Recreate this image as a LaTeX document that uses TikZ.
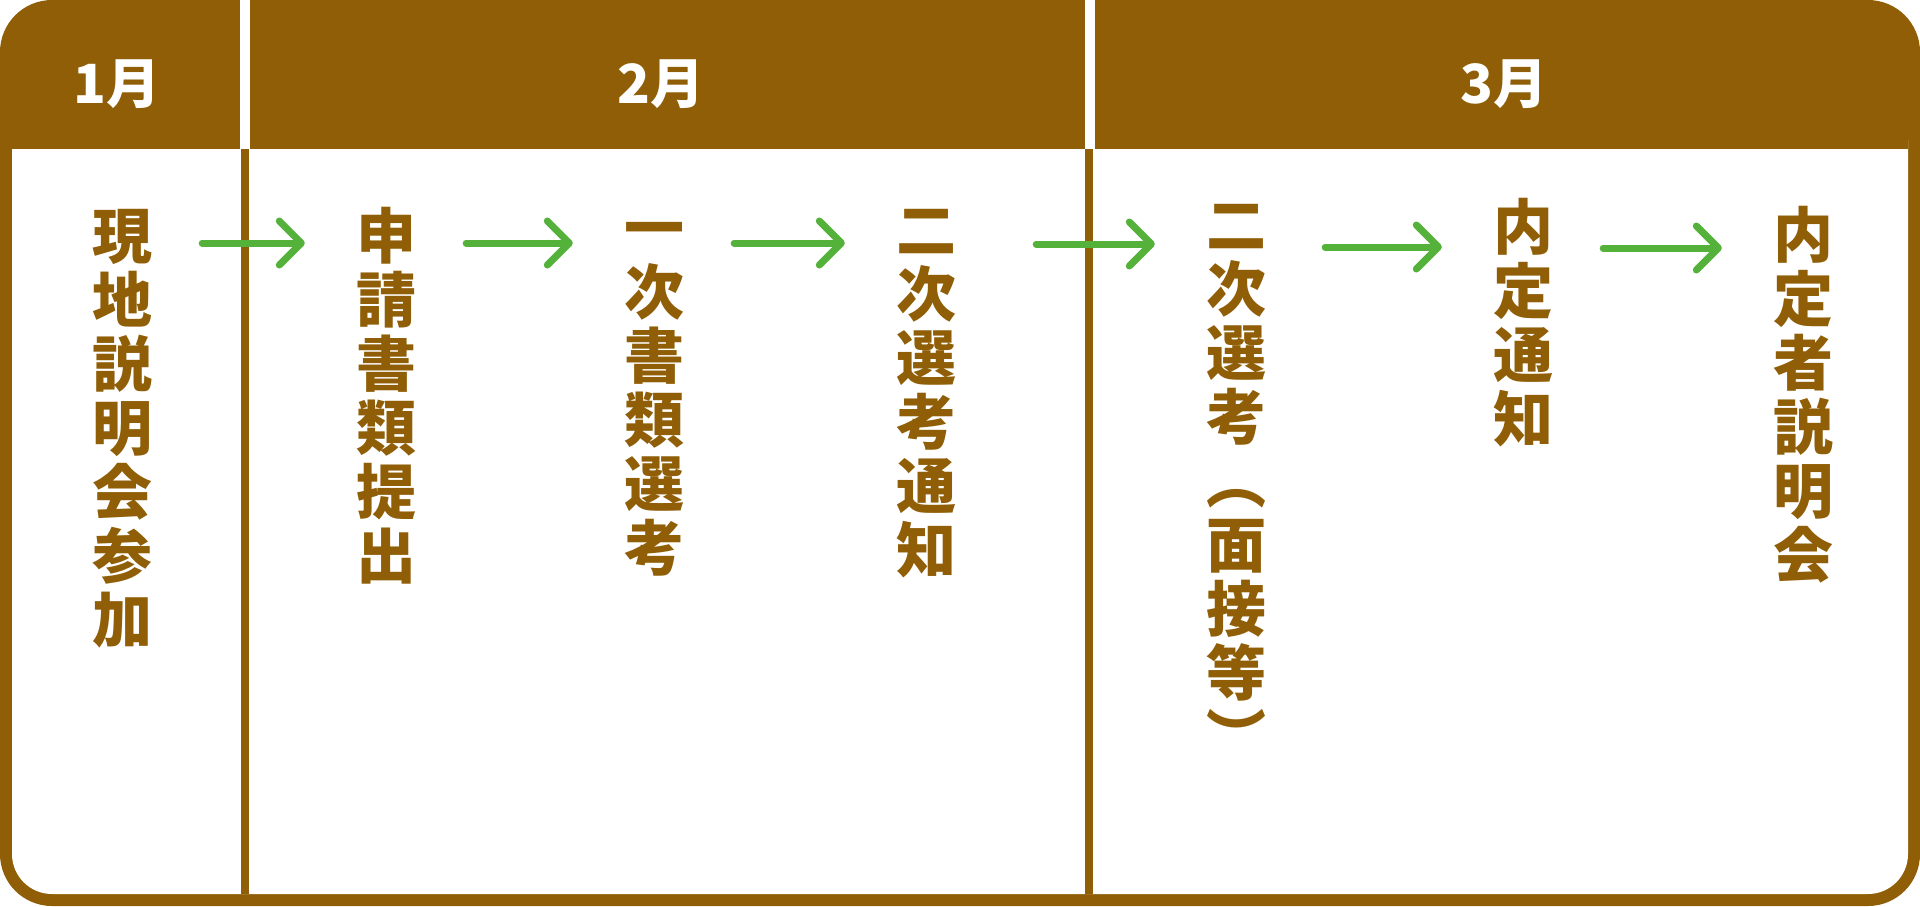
\documentclass[tikz,border=0pt]{standalone}
\usepackage{fontspec}
\newfontfamily\cjk{Noto Sans CJK JP}
\usetikzlibrary{arrows.meta}
\definecolor{brn}{RGB}{143,94,6}
\definecolor{grn}{RGB}{84,178,59}
\newcommand{\tp}{\rule{0pt}{1em}}

\begin{document}
\begin{tikzpicture}[
    x=1pt, y=-1pt,
    col/.style={anchor=north, align=center, inner sep=0pt, text=brn, font=\cjk\bfseries\fontsize{60}{64}\selectfont},
    month/.style={anchor=base, inner sep=0pt, text=white, font=\cjk\bfseries\fontsize{54}{54}\selectfont},
    flow/.style={draw=grn, line width=7pt, line cap=round, shorten <=50pt, shorten >=51pt},
    >={Straight Barb[length=22pt, width=44pt, line cap=round, line join=round]} % Arrow style
]
\useasboundingbox (0,0) rectangle (1920,906);

% Frame
\fill[brn, rounded corners=52pt] (0,0) rectangle (1920,906);
\fill[white, rounded corners=40pt] (12,100) rectangle (1908,894);
\fill[brn] (12,90) rectangle (1908,149);
\fill[white] (240,0) rectangle (250,149);
\fill[white] (1085,0) rectangle (1095,149);
\draw[brn, line width=8pt] (245,149) -- (245,894);
\draw[brn, line width=8pt] (1089,149) -- (1089,894);

% Months
\node[month] (jan) at (117,103) {1月};
\node[month] (feb) at (661,103) {2月};
\node[month] (mar) at (1504,103) {3月};

% Nodes
\node[col] (genchi) at (122,198) {\tp 現\\地\\説\\明\\会\\参\\加};
\node[col] (shinsei) at (386,198) {\tp 申\\請\\書\\類\\提\\出};
\node[col] (ichiji) at (654,190) {\tp 一\\次\\書\\類\\選\\考};
\node[col] (tsuchi) at (926,192) {\tp 二\\次\\選\\考\\通\\知};
\node[col] (niji) at (1236,187) {\tp 二\\次\\選\\考\\︵\\面\\接\\等\\︶};
\node[col] (naitei) at (1523,189) {\tp 内\\定\\通\\知};
\node[col] (setsumei) at (1803,197) {\tp 内\\定\\者\\説\\明\\会};

% Arrows
\coordinate (row1) at (0,243);
\coordinate (row2) at (0,244);
\coordinate (row3) at (0,247);
\coordinate (row4) at (0,248);
\draw[flow, ->] (genchi.east |- row1) -- (shinsei.west |- row1);
\draw[flow, ->] (shinsei.east |- row1) -- (ichiji.west |- row1);
\draw[flow, ->] (ichiji.east |- row1) -- (tsuchi.west |- row1);
\draw[flow, ->, shorten <=80pt] (tsuchi.east |- row2) -- (niji.west |- row2);
\draw[flow, ->, shorten <=59pt] (niji.east |- row3) -- (naitei.west |- row3);
\draw[flow, ->] (naitei.east |- row4) -- (setsumei.west |- row4);

\end{tikzpicture}
\end{document}
